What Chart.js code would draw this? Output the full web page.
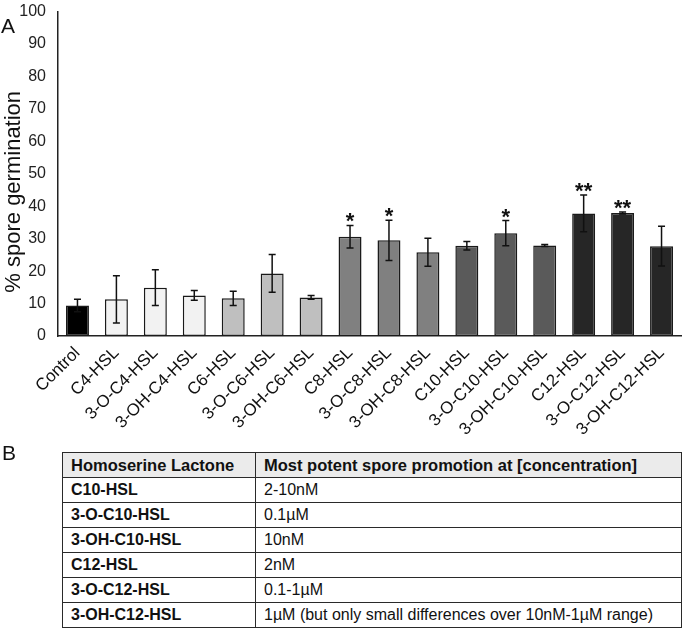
<!DOCTYPE html>
<html>
<head>
<meta charset="utf-8">
<script src="https://cdn.jsdelivr.net/npm/chart.js@4/dist/chart.umd.min.js"></script>
<style>
  body { margin: 0; background: #fff; font-family: "Liberation Sans", Arial, sans-serif; }
  #wrap { position: relative; width: 685px; height: 631px; overflow: hidden; }
  #statschart { position: absolute; left: 0; top: -10px; }
  .panel { position: absolute; font-size: 21px; color: #111; }
  table { position: absolute; left: 62px; top: 452px; width: 620px; border-collapse: collapse;
          font-size: 16px; color: #111; }
  td { border: 1.5px solid #2a2a2a; height: 24px; padding: 0 8px; line-height: 20px; white-space: nowrap; }
  th { border: 1.5px solid #2a2a2a; height: 24px; padding: 0 8px; text-align: left; background: #ebebeb;
       font-size: 16.5px; white-space: nowrap; }
  td.name { font-weight: bold; }
</style>
</head>
<body>
<div id="wrap">
  <canvas id="statschart" width="685" height="455"></canvas>
  <div class="panel" style="left:1px; top:14px;">A</div>
  <div class="panel" style="left:2px; top:441px;">B</div>
  <table id="tbl"></table>
</div>
<script>
var labels = ['Control', 'C4-HSL', '3-O-C4-HSL', '3-OH-C4-HSL', 'C6-HSL', '3-O-C6-HSL', '3-OH-C6-HSL',
  'C8-HSL', '3-O-C8-HSL', '3-OH-C8-HSL', 'C10-HSL', '3-O-C10-HSL', '3-OH-C10-HSL',
  'C12-HSL', '3-O-C12-HSL', '3-OH-C12-HSL'];
var means  = [9.4, 11.3, 14.9, 12.5, 11.6, 19.3, 11.9, 30.6, 29.5, 25.8, 27.8, 31.7, 27.9, 37.8, 37.9, 27.7];
var errors = [1.9, 7.3, 5.5, 1.5, 2.2, 5.8, 0.6, 3.5, 6.2, 4.3, 1.3, 3.9, 0.3, 5.7, 0.3, 6.1];
var sig    = ['', '', '', '', '', '', '', '*', '*', '', '', '*', '', '**', '**', ''];
var fills  = ['#000000', '#f2f2f2', '#f2f2f2', '#f2f2f2', '#bfbfbf', '#bfbfbf', '#bfbfbf',
  '#808080', '#808080', '#808080', '#5a5a5a', '#5a5a5a', '#5a5a5a', '#262626', '#262626', '#262626'];
var yTicks = [0, 10, 20, 30, 40, 50, 60, 70, 80, 90, 100];
var yTitle = '% spore germination';

var tableHead = ['Homoserine Lactone', 'Most potent spore promotion at [concentration]'];
var tableNames = ['C10-HSL', '3-O-C10-HSL', '3-OH-C10-HSL', 'C12-HSL', '3-O-C12-HSL', '3-OH-C12-HSL'];
var tableConc = ['2-10nM', '0.1\u00b5M', '10nM', '2nM', '0.1-1\u00b5M', '1\u00b5M (but only small differences over 10nM-1\u00b5M range)'];

// table B
var tbl = document.getElementById('tbl');
var html = '<tr><th style="width:176px">' + tableHead[0] + '</th><th>' + tableHead[1] + '</th></tr>';
for (var i = 0; i < tableNames.length; i++) {
  html += '<tr><td class="name">' + tableNames[i] + '</td><td>' + tableConc[i] + '</td></tr>';
}
tbl.innerHTML = html;

// error bars + significance stars, positioned via the chart scales
var errorBarPlugin = {
  id: 'errorBars',
  afterDatasetsDraw: function(chart) {
    var xs = chart.scales.x, ys = chart.scales.y, c = chart.ctx;
    c.save();
    c.strokeStyle = '#111';
    c.lineWidth = 1.5;
    for (var i = 0; i < means.length; i++) {
      var x = xs.getPixelForValue(i);
      var top = ys.getPixelForValue(means[i] + errors[i]);
      var bot = ys.getPixelForValue(means[i] - errors[i]);
      c.beginPath();
      c.moveTo(x, top); c.lineTo(x, bot);
      c.moveTo(x - 3.5, top); c.lineTo(x + 3.5, top);
      c.moveTo(x - 3.5, bot); c.lineTo(x + 3.5, bot);
      c.stroke();
      if (sig[i]) {
        c.fillStyle = '#111';
        c.font = 'bold 22px "Liberation Sans", Arial, sans-serif';
        c.textAlign = 'center';
        c.textBaseline = 'alphabetic';
        c.fillText(sig[i], x, top + 3);
      }
    }
    // y axis title, a bit below the middle of the plot like the original
    var area = chart.chartArea;
    c.translate(14, (area.top + area.bottom) / 2 + 18);
    c.rotate(-Math.PI / 2);
    c.fillStyle = '#111';
    c.font = '22px "Liberation Sans", Arial, sans-serif';
    c.textAlign = 'center';
    c.textBaseline = 'middle';
    c.fillText(yTitle, 0, 0);
    c.restore();
  }
};

var ctx = document.getElementById('statschart').getContext('2d');
var statschart = new Chart(ctx, {
  type: 'bar',
  data: {
    labels: labels,
    datasets: [{
      data: means,
      backgroundColor: fills,
      borderColor: '#1a1a1a',
      borderWidth: 1.5,
      borderSkipped: false,
      categoryPercentage: 1,
      barPercentage: 0.59
    }]
  },
  options: {
    responsive: false,
    animation: false,
    layout: { padding: { top: 8, right: 4, left: 0, bottom: 0 } },
    plugins: { legend: { display: false }, tooltip: { enabled: false } },
    scales: {
      x: {
        grid: { display: false, drawTicks: false },
        border: { display: true, color: '#222', width: 1.5 },
        ticks: {
          color: '#111', minRotation: 45, maxRotation: 45, padding: 7, autoSkip: false,
          font: { family: '"Liberation Sans", Arial, sans-serif', size: 17 }
        },
        afterFit: function(scale) { scale.height = 109; }
      },
      y: {
        min: 0, max: 100,
        afterBuildTicks: function(scale) { scale.ticks = yTicks.map(function(v) { return { value: v }; }); },
        grid: { display: false, drawTicks: false },
        border: { display: true, color: '#222', width: 1.5 },
        ticks: {
          color: '#222', padding: 12,
          font: { family: '"Liberation Sans", Arial, sans-serif', size: 16 }
        },
        afterFit: function(scale) { scale.width = 58; }
      }
    }
  },
  plugins: [errorBarPlugin]
});
</script>
</body>
</html>
